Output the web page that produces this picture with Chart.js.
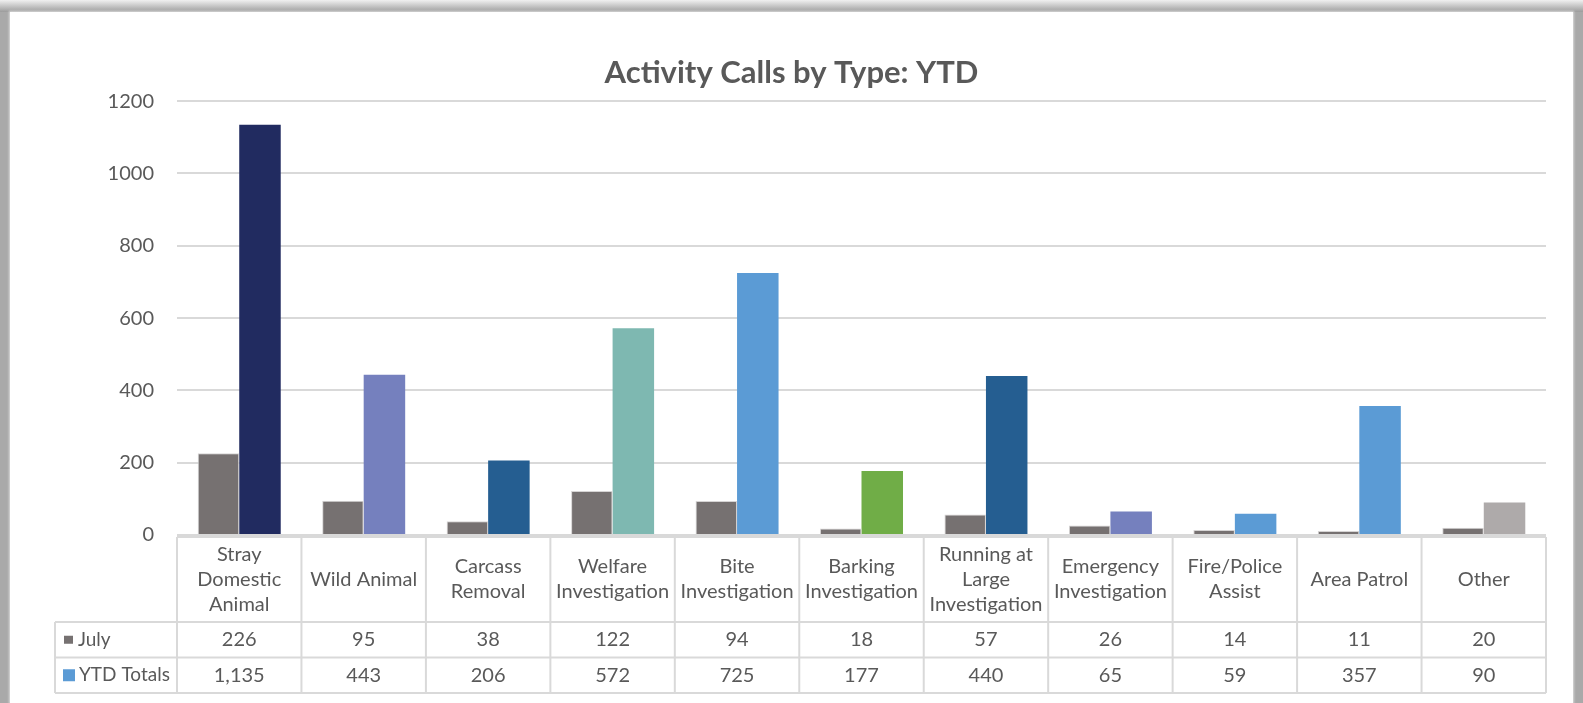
<!DOCTYPE html>
<html lang="en">
<head>
<meta charset="UTF-8">
<title>Activity Calls by Type: YTD</title>
<script src="https://cdn.jsdelivr.net/npm/chart.js"></script>
<style>
  body { margin: 0; width: 1583px; height: 703px; overflow: hidden; background: #a9a9a9; position: relative; }
  .topband { position: absolute; left: 0; top: 0; width: 1583px; height: 12px; background: linear-gradient(#f0f0f0, #9c9c9c); }
  .panel { position: absolute; left: 10px; top: 12px; width: 1563px; height: 691px; background: #fff; box-shadow: 0 0 2px 1px #dadada; }
</style>
</head>
<body>
<div class="topband"></div>
<div class="panel"><canvas id="callsChart" width="1563" height="691"></canvas></div>

<script>
    // header labels, one entry per line
    const categories = [
        ['Stray', 'Domestic', 'Animal'],
        ['Wild Animal'],
        ['Carcass', 'Removal'],
        ['Welfare', 'Investigation'],
        ['Bite', 'Investigation'],
        ['Barking', 'Investigation'],
        ['Running at', 'Large', 'Investigation'],
        ['Emergency', 'Investigation'],
        ['Fire/Police', 'Assist'],
        ['Area Patrol'],
        ['Other']
    ];
    const julyCalls = [226, 95, 38, 122, 94, 18, 57, 26, 14, 11, 20];
    const ytdTotals = [1135, 443, 206, 572, 725, 177, 440, 65, 59, 357, 90];
    const ytdColors = ['#212B60', '#7580BE', '#255E91', '#7EB8B1', '#5B9BD5', '#70AD47',
                       '#255E91', '#7580BE', '#5B9BD5', '#5B9BD5', '#AEAAAA'];

    const textColor = '#595959';
    const fontFamily = 'Lato, "Open Sans", sans-serif';

    // data table drawn under the plot, columns taken from the x scale
    const dataTable = {
        id: 'dataTable',
        afterDraw(chart) {
            const ctx = chart.ctx;
            const x = chart.scales.x;
            const area = chart.chartArea;
            const colW = x.width / categories.length;
            const top = area.bottom + 2;
            const headH = 85, rowH = 35.5;
            const tableLeft = 45;
            const r1 = top + headH, r2 = r1 + rowH, r3 = r2 + rowH;

            ctx.save();
            ctx.strokeStyle = '#d9d9d9';
            ctx.lineWidth = 2;
            ctx.beginPath();
            // horizontal lines
            ctx.moveTo(area.left, top); ctx.lineTo(area.right, top);
            ctx.moveTo(tableLeft, r1); ctx.lineTo(area.right, r1);
            ctx.moveTo(tableLeft, r2); ctx.lineTo(area.right, r2);
            ctx.moveTo(tableLeft, r3); ctx.lineTo(area.right, r3);
            // vertical lines
            ctx.moveTo(tableLeft, r1); ctx.lineTo(tableLeft, r3);
            for (let i = 0; i <= categories.length; i++) {
                const cx = area.left + i * colW;
                ctx.moveTo(cx, top); ctx.lineTo(cx, r3);
            }
            ctx.stroke();

            ctx.fillStyle = textColor;
            ctx.font = '20px ' + fontFamily;
            ctx.textAlign = 'center';
            ctx.textBaseline = 'middle';
            const headMid = top + headH / 2;
            categories.forEach((lines, i) => {
                const cx = x.getPixelForValue(i);
                const start = headMid - (lines.length - 1) * 25 / 2;
                lines.forEach((t, j) => ctx.fillText(t, cx, start + j * 25));
                ctx.fillText(julyCalls[i].toLocaleString('en-US'), cx, r1 + rowH / 2);
                ctx.fillText(ytdTotals[i].toLocaleString('en-US'), cx, r2 + rowH / 2);
            });

            // legend keys
            ctx.textAlign = 'left';
            ctx.font = '19px ' + fontFamily;
            ctx.fillStyle = '#767171';
            ctx.fillRect(54, r1 + rowH / 2 - 4, 9, 8);
            ctx.fillStyle = '#5B9BD5';
            ctx.fillRect(53, r2 + rowH / 2 - 6, 12, 12);
            ctx.fillStyle = textColor;
            ctx.fillText('July', 68, r1 + rowH / 2);
            ctx.fillText('YTD Totals', 69, r2 + rowH / 2);
            ctx.restore();
        }
    };

    const ctx = document.getElementById('callsChart').getContext('2d');

    new Chart(ctx, {
        type: 'bar',
        data: {
            labels: categories,
            datasets: [
                {
                    label: 'July',
                    data: julyCalls,
                    backgroundColor: '#767171',
                    borderColor: '#d6d4d4',
                    borderWidth: 1
                },
                {
                    label: 'YTD Totals',
                    data: ytdTotals,
                    backgroundColor: ytdColors
                }
            ]
        },
        options: {
            responsive: false,
            animation: false,
            layout: { padding: { left: 27, right: 27, top: 0, bottom: 168 } },
            datasets: { bar: { barPercentage: 1, categoryPercentage: 0.667 } },
            plugins: {
                legend: { display: false },
                tooltip: { enabled: false },
                title: {
                    display: true,
                    text: 'Activity Calls by Type: YTD',
                    color: textColor,
                    font: { family: fontFamily, size: 31, weight: 'bold' },
                    padding: { top: 42, bottom: 10 }
                }
            },
            scales: {
                x: { display: false },
                y: {
                    min: 0,
                    max: 1200,
                    ticks: {
                        stepSize: 200,
                        color: textColor,
                        padding: 23,
                        font: { family: fontFamily, size: 20 },
                        callback: v => String(v)
                    },
                    grid: { color: '#d9d9d9', lineWidth: 2, drawTicks: false },
                    border: { display: false },
                    afterFit(scale) { scale.width = 140; }
                }
            }
        },
        plugins: [dataTable]
    });
</script>
</body>
</html>
